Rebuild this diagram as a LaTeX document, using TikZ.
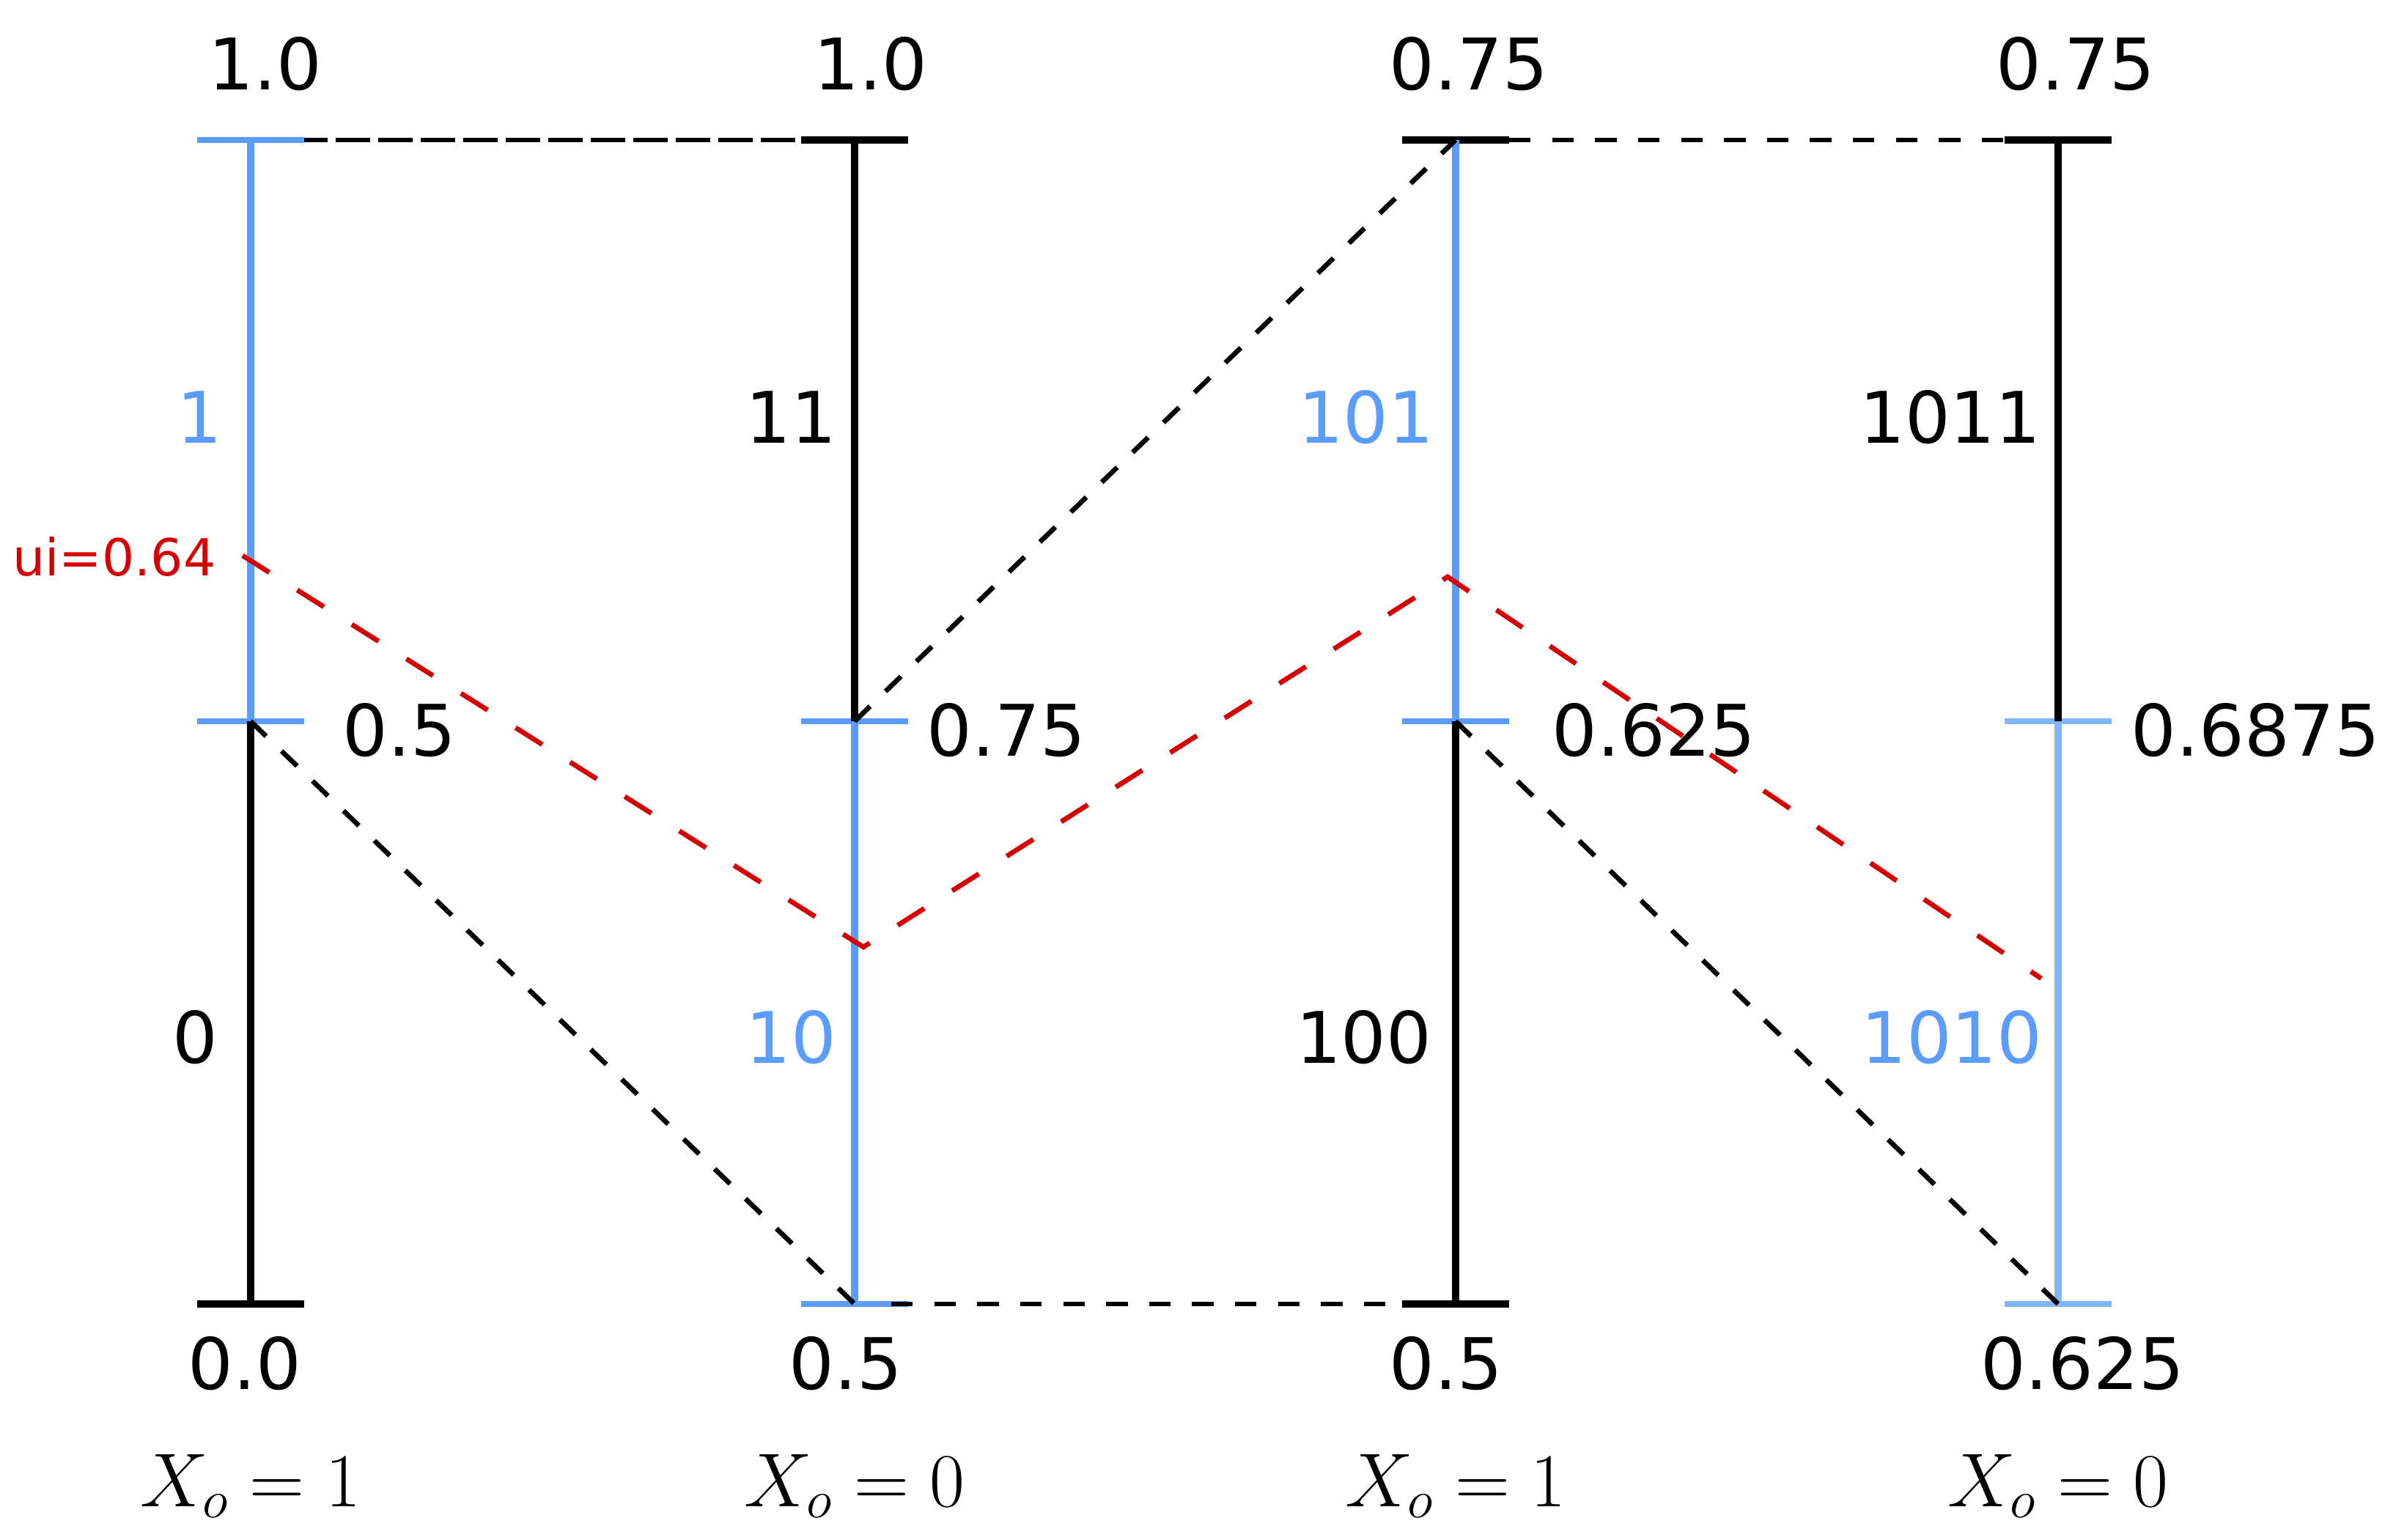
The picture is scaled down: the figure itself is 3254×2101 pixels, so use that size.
\RequirePackage{fix-cm}
\documentclass[tikz,border=0pt]{standalone}
\usepackage[no-math]{fontspec}
\setmainfont{DejaVu Sans}
\definecolor{myblue}{RGB}{90,156,255}
\definecolor{mylightblue}{RGB}{131,181,255}
\definecolor{myred}{RGB}{213,0,0}
\begin{document}
\begin{tikzpicture}[x=0.01cm,y=-0.01cm,
  vseg/.style={line width=2.7pt},
  ktick/.style={line width=2.75pt},
  btick/.style={line width=2.15pt},
  link/.style={line width=1.9pt,dash pattern=on 0.293cm off 0.293cm},
  longlink/.style={line width=1.9pt,dash pattern=on 0.47cm off 0.11cm},
  uipath/.style={myred,line width=1.9pt,dash pattern=on 0.43cm off 0.45cm},
  lab/.style={inner sep=0pt,font=\fontsize{27.6}{33}\selectfont},
  uilab/.style={inner sep=0pt,text=myred,font=\fontsize{19.8}{24}\selectfont},
  xlab/.style={inner sep=0pt,anchor=base,font=\fontsize{29.6}{35}\selectfont}]
\useasboundingbox (0,0) rectangle (3254,2101);
% column points
\coordinate (c1t) at (342,191);  \coordinate (c1m) at (342,984);  \coordinate (c1b) at (342,1779);
\coordinate (c2t) at (1166,191); \coordinate (c2m) at (1166,984); \coordinate (c2b) at (1166,1779);
\coordinate (c3t) at (1986,191); \coordinate (c3m) at (1986,984); \coordinate (c3b) at (1986,1779);
\coordinate (c4t) at (2808,191); \coordinate (c4m) at (2808,984); \coordinate (c4b) at (2808,1779);
% long dashed top link (under ticks)
\draw[longlink] (c1t) -- (c2t);
% ticks
\draw[btick,myblue] ([xshift=-0.73cm]c1t) -- ([xshift=0.73cm]c1t);
\draw[btick,myblue] ([xshift=-0.73cm]c1m) -- ([xshift=0.73cm]c1m);
\draw[ktick] ([xshift=-0.73cm]c1b) -- ([xshift=0.73cm]c1b);
\draw[ktick] ([xshift=-0.73cm]c2t) -- ([xshift=0.73cm]c2t);
\draw[btick,myblue] ([xshift=-0.73cm]c2m) -- ([xshift=0.73cm]c2m);
\draw[btick,myblue] ([xshift=-0.73cm]c2b) -- ([xshift=0.73cm]c2b);
\draw[ktick] ([xshift=-0.73cm]c3t) -- ([xshift=0.73cm]c3t);
\draw[btick,myblue] ([xshift=-0.73cm]c3m) -- ([xshift=0.73cm]c3m);
\draw[ktick] ([xshift=-0.73cm]c3b) -- ([xshift=0.73cm]c3b);
\draw[ktick] ([xshift=-0.73cm]c4t) -- ([xshift=0.73cm]c4t);
\draw[btick,mylightblue] ([xshift=-0.73cm]c4m) -- ([xshift=0.73cm]c4m);
\draw[btick,mylightblue] ([xshift=-0.73cm]c4b) -- ([xshift=0.73cm]c4b);
% vertical segments
\draw[vseg,myblue] (c1t) -- (c1m);
\draw[vseg] (c1m) -- (c1b);
\draw[vseg] (c2t) -- (c2m);
\draw[vseg,myblue] (c2m) -- (c2b);
\draw[vseg,myblue] (c3t) -- (c3m);
\draw[vseg] (c3m) -- (c3b);
\draw[vseg] (c4t) -- (c4m);
\draw[vseg,mylightblue] (c4m) -- (c4b);
% dashed links
\coordinate (b2s) at (1216,1779); \coordinate (b3e) at (1940,1779);
\coordinate (t3s) at (2059,191);  \coordinate (t4e) at (2737,191);
\draw[link] (c1m) -- (c2b);
\draw[link] (c2m) -- (c3t);
\draw[link] (c3m) -- (c4b);
\draw[link] (b2s) -- (b3e);
\draw[link] (t3s) -- (t4e);
% ui path
\coordinate (u1) at (331,758); \coordinate (u2) at (1178,1292);
\coordinate (u3) at (1975,787); \coordinate (u4) at (2785,1335);
\draw[uipath] (u1) -- (u2) -- (u3) -- (u4);
\node[uilab,anchor=base east] (ui) at (295,786) {ui=0.64};
% top labels
\node[lab,anchor=base] (t1) at (362,123) {1.0};
\node[lab,anchor=base] (t2) at (1188,123) {1.0};
\node[lab,anchor=base] (t3) at (2004,123) {0.75};
\node[lab,anchor=base] (t4) at (2832,123) {0.75};
% bottom labels
\node[lab,anchor=base] (b1) at (334,1895) {0.0};
\node[lab,anchor=base] (b2) at (1154,1895) {0.5};
\node[lab,anchor=base] (b3) at (1973,1895) {0.5};
\node[lab,anchor=base] (b4) at (2841,1895) {0.625};
% middle labels
\node[lab,anchor=base west] (m1) at (467,1032) {0.5};
\node[lab,anchor=base west] (m2) at (1264,1032) {0.75};
\node[lab,anchor=base west] (m3) at (2117,1032) {0.625};
\node[lab,anchor=base west] (m4) at (2907,1032) {0.6875};
% code labels
\node[lab,anchor=base east,text=myblue] (s1u) at (304,605) {1};
\node[lab,anchor=base east] (s1l) at (298,1450) {0};
\node[lab,anchor=base east] (s2u) at (1142,605) {11};
\node[lab,anchor=base east,text=myblue] (s2l) at (1142,1450) {10};
\node[lab,anchor=base east,text=myblue] (s3u) at (1957,605) {101};
\node[lab,anchor=base east] (s3l) at (1954,1450) {100};
\node[lab,anchor=base east] (s4u) at (2785,605) {1011};
\node[lab,anchor=base east,text=myblue] (s4l) at (2787,1450) {1010};
% bottom captions
\node[xlab] (x1) at (342,2055) {$X_o=1$};
\node[xlab] (x2) at (1166,2055) {$X_o=0$};
\node[xlab] (x3) at (1986,2055) {$X_o=1$};
\node[xlab] (x4) at (2808,2055) {$X_o=0$};
\end{tikzpicture}
\end{document}
